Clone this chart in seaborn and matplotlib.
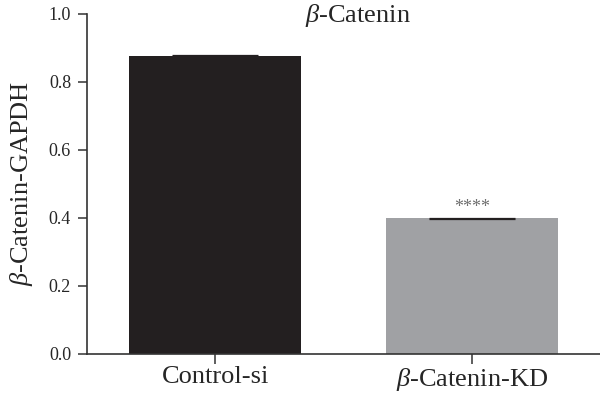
import numpy as np
import pandas as pd
import matplotlib
matplotlib.use('Agg')
import matplotlib.pyplot as plt
import seaborn as sns

groups = ['Control-si', r'$\beta$-Catenin-KD']
ratio = [0.875, 0.398]
sem = [0.003, 0.002]
bar_colors = ['#231f20', '#a0a1a4']
stars = ['', '****']

sns.set_style('ticks')
plt.rcParams['font.family'] = ['Liberation Serif', 'DejaVu Serif']
plt.rcParams['mathtext.fontset'] = 'custom'
plt.rcParams['mathtext.rm'] = 'Liberation Serif'
plt.rcParams['mathtext.it'] = 'Liberation Serif:italic'

df = pd.DataFrame({'group': groups, 'ratio': ratio})

fig = plt.figure(figsize=(6, 3.97), dpi=100)
ax = fig.add_axes([0.145, 0.109, 0.855, 0.856])

sns.barplot(data=df, x='group', y='ratio', hue='group', palette=bar_colors,
            width=0.67, errorbar=None, legend=False, saturation=1, ax=ax)
for b in ax.patches:
    b.set_edgecolor('none')

ax.errorbar(range(len(groups)), ratio, yerr=sem, fmt='none', ecolor='#231f20',
            elinewidth=0.8, capsize=31, capthick=0.9)
for i, s in enumerate(stars):
    if s:
        ax.text(i, ratio[i] + sem[i] + 0.005, s, ha='center', va='bottom',
                fontsize=13, color='#6e6e6e')

ax.set_xlim(-0.5, 1.5)
ax.set_ylim(0, 1.0)
ax.set_yticks([0.0, 0.2, 0.4, 0.6, 0.8, 1.0])
ax.set_yticklabels(['0.0', '0.2', '0.4', '0.6', '0.8', '1.0'])
ax.set_xlabel('')
ax.set_ylabel(r'$\beta$-Catenin-GAPDH', fontsize=19, labelpad=10)
ax.tick_params(axis='y', labelsize=13, length=6.5, width=1.1, color='#333333', pad=5)
ax.tick_params(axis='x', labelsize=19, length=7, width=1.1, color='#333333', pad=2)
for side in ['top', 'right']:
    ax.spines[side].set_visible(False)
for side in ['left', 'bottom']:
    ax.spines[side].set_linewidth(1.2)
    ax.spines[side].set_color('#333333')

fig.text(0.597, 0.962, r'$\beta$-Catenin', ha='center', va='center', fontsize=19)

fig.savefig('out.png', dpi=100)
